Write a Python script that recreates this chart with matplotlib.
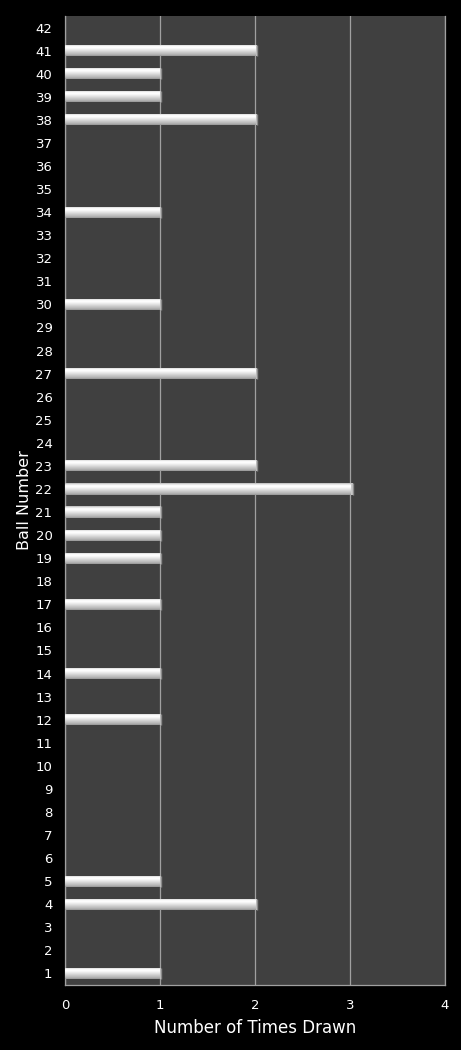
import matplotlib
matplotlib.use("Agg")
import matplotlib.pyplot as plt
import numpy as np

# ball numbers and how often each was drawn
balls = list(range(1, 43))
drawn = {1: 1, 4: 2, 5: 1, 12: 1, 14: 1, 17: 1, 19: 1, 20: 1, 21: 1, 22: 3,
         23: 2, 27: 2, 30: 1, 34: 1, 38: 2, 39: 1, 40: 1, 41: 2}
counts = [drawn.get(b, 0) for b in balls]
xticks = [0, 1, 2, 3, 4]

fig = plt.figure(figsize=(4.61, 10.5), dpi=100, facecolor="black")
ax = fig.add_axes([65/461, 65/1050, 380/461, 969/1050])
ax.set_facecolor("#404040")

bars = ax.barh(balls, counts, height=0.48, color="#c8c8c8", edgecolor="none", zorder=3)

# glossy look: vertical gradient (top row first) clipped to each bar
grad = np.array([0.78, 0.92, 1.0, 0.99, 0.95, 0.90, 0.85, 0.80, 0.75, 0.70, 0.62]).reshape(-1, 1)
for b in bars:
    w = b.get_width()
    if w <= 0:
        continue
    y0 = b.get_y()
    h = b.get_height()
    im = ax.imshow(grad, cmap="gray", vmin=0, vmax=1, aspect="auto",
                   extent=[0, w * 1.01, y0, y0 + h], origin="upper", zorder=4,
                   interpolation="bilinear")
    im.set_clip_path(b)
    b.set_width(w * 1.01)
    # darker cap at the right end
    ax.plot([w * 1.01, w * 1.01], [y0, y0 + h], color="#8a8a8a", lw=1.0, zorder=5,
            solid_capstyle="butt")

ax.set_xlim(0, 4)
ax.set_ylim(0.5, 42.5)
ax.set_xticks(xticks)
ax.set_yticks(balls)
ax.set_yticklabels([str(b) for b in balls])
ax.xaxis.grid(True, color="#a0a0a0", lw=0.9, zorder=1)
ax.set_axisbelow(True)

ax.spines["top"].set_visible(False)
for s in ["bottom", "right", "left"]:
    ax.spines[s].set_color("#a0a0a0")
    ax.spines[s].set_linewidth(0.9)

ax.tick_params(axis="both", length=0, colors="white", labelsize=9.5)
ax.tick_params(axis="y", pad=9)
ax.tick_params(axis="x", pad=10)

ax.set_xlabel("Number of Times Drawn", color="white", fontsize=12, labelpad=5)
ax.set_ylabel("Ball Number", color="white", fontsize=11.5)
ax.yaxis.set_label_coords(-0.088, 0.5)

fig.savefig("out.png", dpi=100, facecolor="black")
